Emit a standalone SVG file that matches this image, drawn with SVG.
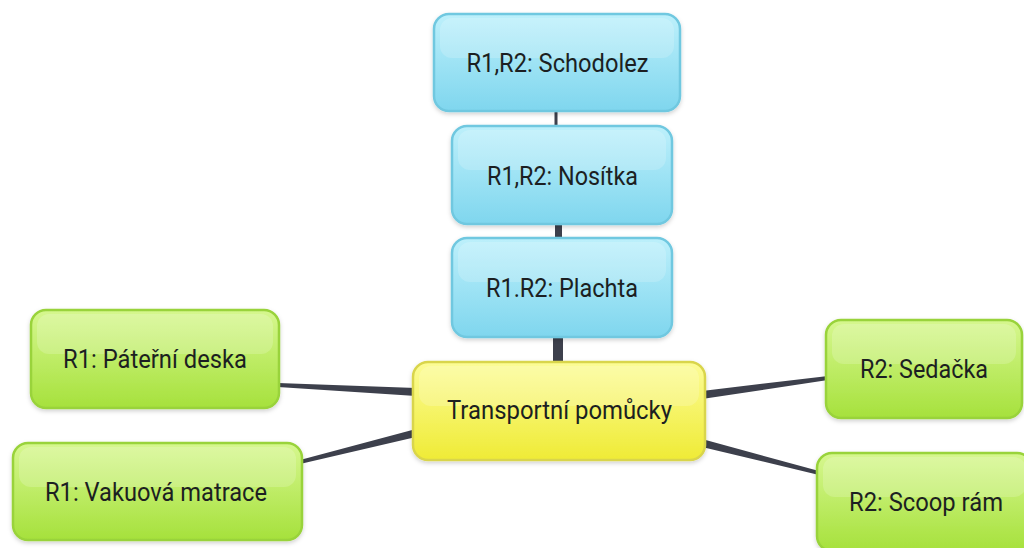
<svg xmlns="http://www.w3.org/2000/svg" width="1024" height="548" viewBox="0 0 1024 548">
  <defs>
    <linearGradient id="gBlue" x1="0" y1="0" x2="0" y2="1">
      <stop offset="0" stop-color="#bdf0fb"/>
      <stop offset="1" stop-color="#7fd6ee"/>
    </linearGradient>
    <linearGradient id="gGreen" x1="0" y1="0" x2="0" y2="1">
      <stop offset="0" stop-color="#d6f78f"/>
      <stop offset="1" stop-color="#a6e13c"/>
    </linearGradient>
    <linearGradient id="gYellow" x1="0" y1="0" x2="0" y2="1">
      <stop offset="0" stop-color="#fcfc96"/>
      <stop offset="1" stop-color="#efeb36"/>
    </linearGradient>
    <filter id="shadow" x="-10%" y="-10%" width="120%" height="130%">
      <feDropShadow dx="0" dy="2" stdDeviation="2" flood-color="#000" flood-opacity="0.18"/>
    </filter>
  </defs>
  <style>
    .box { stroke-width: 2.5; filter: url(#shadow); }
    .blue { fill: url(#gBlue); stroke: #6fc8e0; }
    .green { fill: url(#gGreen); stroke: #99d33a; }
    .yellow { fill: url(#gYellow); stroke: #d9d54c; }
    .shine { fill: #ffffff; opacity: 0.18; }
    .label { font-family: Roboto, "Liberation Sans", sans-serif; font-size: 25px; fill: #1c1f22; text-anchor: middle; }
    .conn { fill: #3d404c; }
  </style>
  <rect width="1024" height="548" fill="#ffffff"/>

  <!-- connectors -->
  <g id="connectors">
    <rect class="conn" x="554.5" y="108" width="3" height="20"/>
    <rect class="conn" x="555" y="222" width="7" height="18"/>
    <rect class="conn" x="553" y="335" width="10" height="29"/>
    <polygon class="conn" points="278,383 416,388 416,396 278,387"/>
    <polygon class="conn" points="300,460 416,429 416,437 300,464"/>
    <polygon class="conn" points="702,391 828,376 828,380 702,399"/>
    <polygon class="conn" points="702,439 819,471 819,475 702,447"/>
  </g>

  <g id="schodolez">
    <rect class="box blue" x="434" y="14" width="246" height="97" rx="15"/>
    <rect class="shine" x="440" y="18" width="234" height="40" rx="12"/>
    <text class="label" x="557.5" y="71.5" textLength="182" lengthAdjust="spacingAndGlyphs">R1,R2: Schodolez</text>
  </g>

  <g id="nositka">
    <rect class="box blue" x="452" y="126" width="220" height="98" rx="15"/>
    <rect class="shine" x="458" y="130" width="208" height="40" rx="12"/>
    <text class="label" x="562.5" y="185" textLength="151" lengthAdjust="spacingAndGlyphs">R1,R2: Nosítka</text>
  </g>

  <g id="plachta">
    <rect class="box blue" x="452" y="238" width="220" height="99" rx="15"/>
    <rect class="shine" x="458" y="242" width="208" height="40" rx="12"/>
    <text class="label" x="562" y="296.5" textLength="152" lengthAdjust="spacingAndGlyphs">R1.R2: Plachta</text>
  </g>

  <g id="transportni">
    <rect class="box yellow" x="413" y="362" width="292" height="98" rx="15"/>
    <rect class="shine" x="419" y="366" width="280" height="40" rx="12"/>
    <text class="label" x="559.5" y="418.5" textLength="225" lengthAdjust="spacingAndGlyphs">Transportní pomůcky</text>
  </g>

  <g id="paterni">
    <rect class="box green" x="31" y="310" width="248" height="98" rx="15"/>
    <rect class="shine" x="37" y="314" width="236" height="40" rx="12"/>
    <text class="label" x="155" y="367.5" textLength="184" lengthAdjust="spacingAndGlyphs">R1: Páteřní deska</text>
  </g>

  <g id="vakuova">
    <rect class="box green" x="13" y="443" width="289" height="97" rx="15"/>
    <rect class="shine" x="19" y="447" width="277" height="40" rx="12"/>
    <text class="label" x="156" y="501" textLength="222" lengthAdjust="spacingAndGlyphs">R1: Vakuová matrace</text>
  </g>

  <g id="sedacka">
    <rect class="box green" x="826" y="320" width="196" height="98" rx="15"/>
    <rect class="shine" x="832" y="324" width="184" height="40" rx="12"/>
    <text class="label" x="924" y="377.5" textLength="128" lengthAdjust="spacingAndGlyphs">R2: Sedačka</text>
  </g>

  <g id="scoop">
    <rect class="box green" x="817" y="453" width="215" height="98" rx="15"/>
    <rect class="shine" x="823" y="457" width="203" height="40" rx="12"/>
    <text class="label" x="926" y="511" textLength="154" lengthAdjust="spacingAndGlyphs">R2: Scoop rám</text>
  </g>
</svg>
